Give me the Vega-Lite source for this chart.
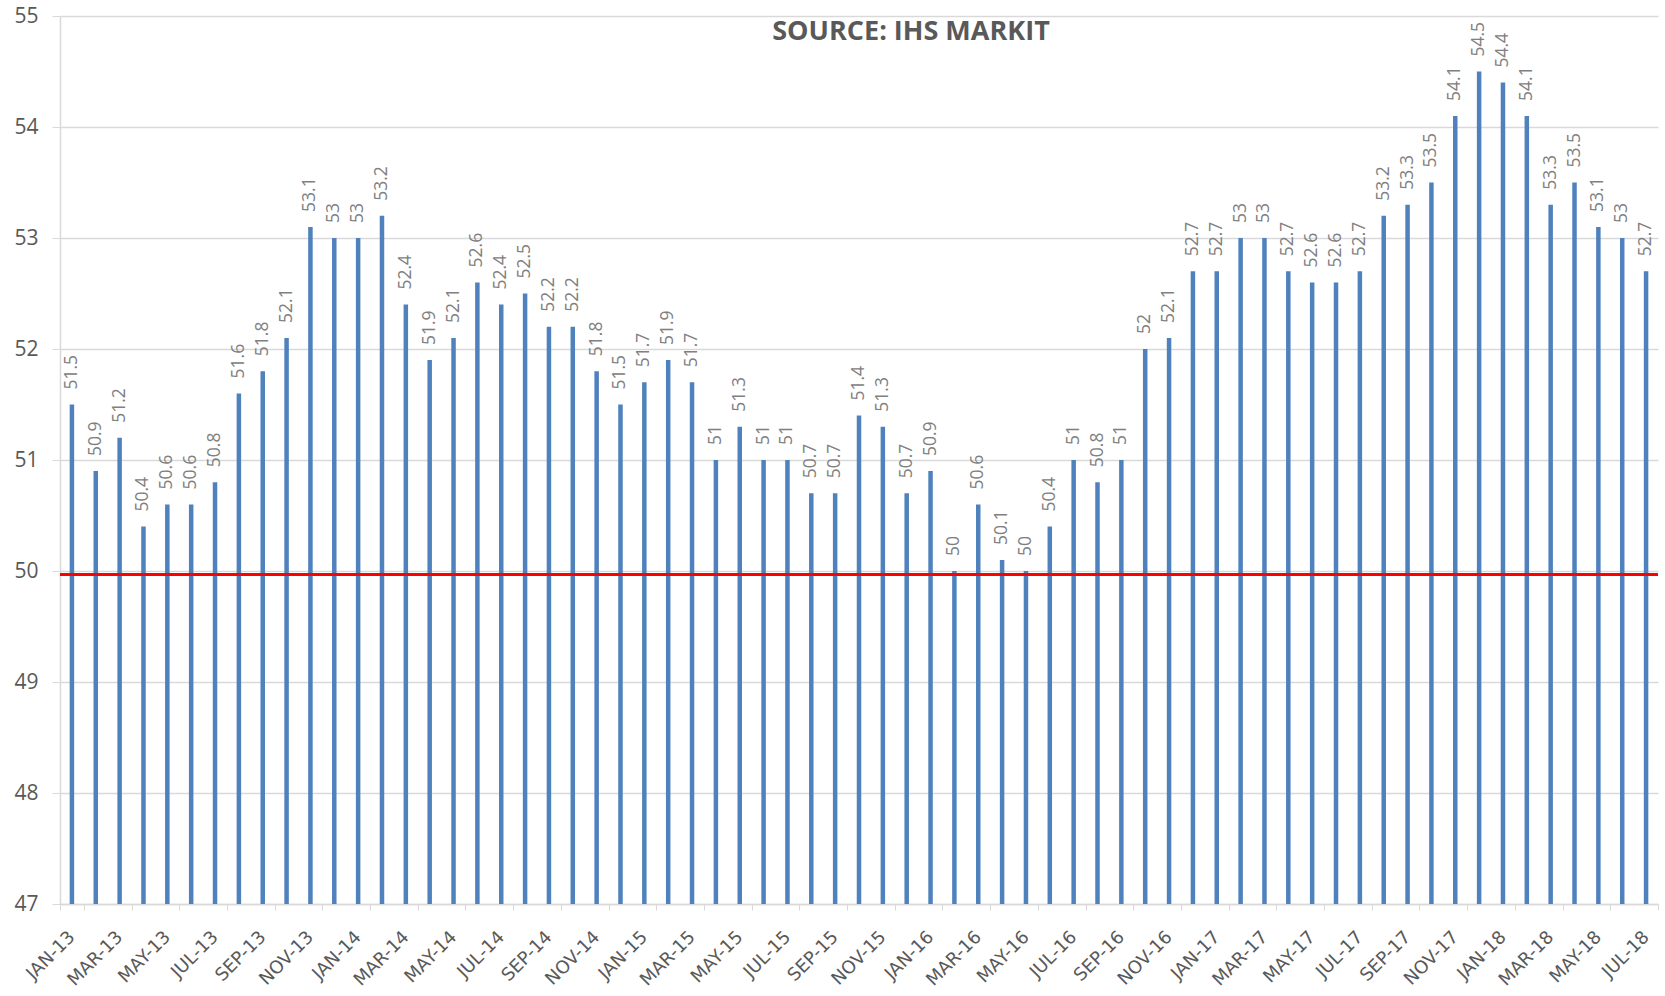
{
  "$schema": "https://vega.github.io/schema/vega-lite/v6.json",
  "autosize": {"type": "none"},
  "width": 1598,
  "height": 888,
  "padding": {"left": 60, "top": 16, "right": 7, "bottom": 92},
  "background": "white",
  "title": {
    "text": "SOURCE: IHS MARKIT",
    "font": "Open Sans",
    "fontSize": 27,
    "fontWeight": "bold",
    "color": "#595959",
    "anchor": "middle",
    "dx": 52,
    "offset": -41,
    "orient": "top"
  },
  "config": {
    "view": {"stroke": null},
    "axis": {"labelFont": "Open Sans", "labelColor": "#595959", "gridColor": "#d9d9d9", "domainColor": "#d9d9d9", "tickColor": "#d9d9d9", "titleFont": "Open Sans"}
  },
  "data": {"values": [
    {"month": "JAN-13", "v": 51.5}, {"month": "FEB-13", "v": 50.9}, {"month": "MAR-13", "v": 51.2}, {"month": "APR-13", "v": 50.4},
    {"month": "MAY-13", "v": 50.6}, {"month": "JUN-13", "v": 50.6}, {"month": "JUL-13", "v": 50.8}, {"month": "AUG-13", "v": 51.6},
    {"month": "SEP-13", "v": 51.8}, {"month": "OCT-13", "v": 52.1}, {"month": "NOV-13", "v": 53.1}, {"month": "DEC-13", "v": 53},
    {"month": "JAN-14", "v": 53}, {"month": "FEB-14", "v": 53.2}, {"month": "MAR-14", "v": 52.4}, {"month": "APR-14", "v": 51.9},
    {"month": "MAY-14", "v": 52.1}, {"month": "JUN-14", "v": 52.6}, {"month": "JUL-14", "v": 52.4}, {"month": "AUG-14", "v": 52.5},
    {"month": "SEP-14", "v": 52.2}, {"month": "OCT-14", "v": 52.2}, {"month": "NOV-14", "v": 51.8}, {"month": "DEC-14", "v": 51.5},
    {"month": "JAN-15", "v": 51.7}, {"month": "FEB-15", "v": 51.9}, {"month": "MAR-15", "v": 51.7}, {"month": "APR-15", "v": 51},
    {"month": "MAY-15", "v": 51.3}, {"month": "JUN-15", "v": 51}, {"month": "JUL-15", "v": 51}, {"month": "AUG-15", "v": 50.7},
    {"month": "SEP-15", "v": 50.7}, {"month": "OCT-15", "v": 51.4}, {"month": "NOV-15", "v": 51.3}, {"month": "DEC-15", "v": 50.7},
    {"month": "JAN-16", "v": 50.9}, {"month": "FEB-16", "v": 50}, {"month": "MAR-16", "v": 50.6}, {"month": "APR-16", "v": 50.1},
    {"month": "MAY-16", "v": 50}, {"month": "JUN-16", "v": 50.4}, {"month": "JUL-16", "v": 51}, {"month": "AUG-16", "v": 50.8},
    {"month": "SEP-16", "v": 51}, {"month": "OCT-16", "v": 52}, {"month": "NOV-16", "v": 52.1}, {"month": "DEC-16", "v": 52.7},
    {"month": "JAN-17", "v": 52.7}, {"month": "FEB-17", "v": 53}, {"month": "MAR-17", "v": 53}, {"month": "APR-17", "v": 52.7},
    {"month": "MAY-17", "v": 52.6}, {"month": "JUN-17", "v": 52.6}, {"month": "JUL-17", "v": 52.7}, {"month": "AUG-17", "v": 53.2},
    {"month": "SEP-17", "v": 53.3}, {"month": "OCT-17", "v": 53.5}, {"month": "NOV-17", "v": 54.1}, {"month": "DEC-17", "v": 54.5},
    {"month": "JAN-18", "v": 54.4}, {"month": "FEB-18", "v": 54.1}, {"month": "MAR-18", "v": 53.3}, {"month": "APR-18", "v": 53.5},
    {"month": "MAY-18", "v": 53.1}, {"month": "JUN-18", "v": 53}, {"month": "JUL-18", "v": 52.7}
  ]},
  "encoding": {
    "x": {
      "field": "month", "type": "ordinal", "sort": null,
      "scale": {"paddingInner": 0, "paddingOuter": 0},
      "axis": {
        "title": null,
        "values": ["JAN-13","MAR-13","MAY-13","JUL-13","SEP-13","NOV-13","JAN-14","MAR-14","MAY-14","JUL-14","SEP-14","NOV-14","JAN-15","MAR-15","MAY-15","JUL-15","SEP-15","NOV-15","JAN-16","MAR-16","MAY-16","JUL-16","SEP-16","NOV-16","JAN-17","MAR-17","MAY-17","JUL-17","SEP-17","NOV-17","JAN-18","MAR-18","MAY-18","JUL-18"],
        "tickBand": "extent",
        "tickSize": 6,
        "labelAngle": -45,
        "labelAlign": "right",
        "labelBaseline": "middle",
        "labelFont": "DejaVu Sans",
        "labelFontSize": 18,
        "labelPadding": 24,
        "domainWidth": 1.5
      }
    },
    "y": {
      "field": "v", "type": "quantitative",
      "scale": {"domain": [47, 55], "zero": false, "nice": false},
      "axis": {
        "title": null,
        "values": [47, 48, 49, 50, 51, 52, 53, 54, 55],
        "grid": true,
        "gridWidth": 1.5,
        "tickSize": 8,
        "labelFontSize": 21,
        "labelPadding": 14,
        "domain": true,
        "domainWidth": 1.5
      }
    }
  },
  "layer": [
    {"mark": {"type": "bar", "width": 4.5, "color": "#4F81BD", "clip": true}, "encoding": {"y2": {"datum": 47}}},
    {"mark": {"type": "text", "angle": -90, "align": "left", "baseline": "middle", "dx": 15, "font": "Open Sans", "fontSize": 17.5, "color": "#808080"},
     "encoding": {"text": {"field": "v", "type": "quantitative"}}},
    {"mark": {"type": "rule", "color": "#FF0000", "strokeWidth": 2.5}, "encoding": {"y": {"datum": 49.97}, "x": {"value": 0}, "x2": {"value": 1598}}}
  ]
}
